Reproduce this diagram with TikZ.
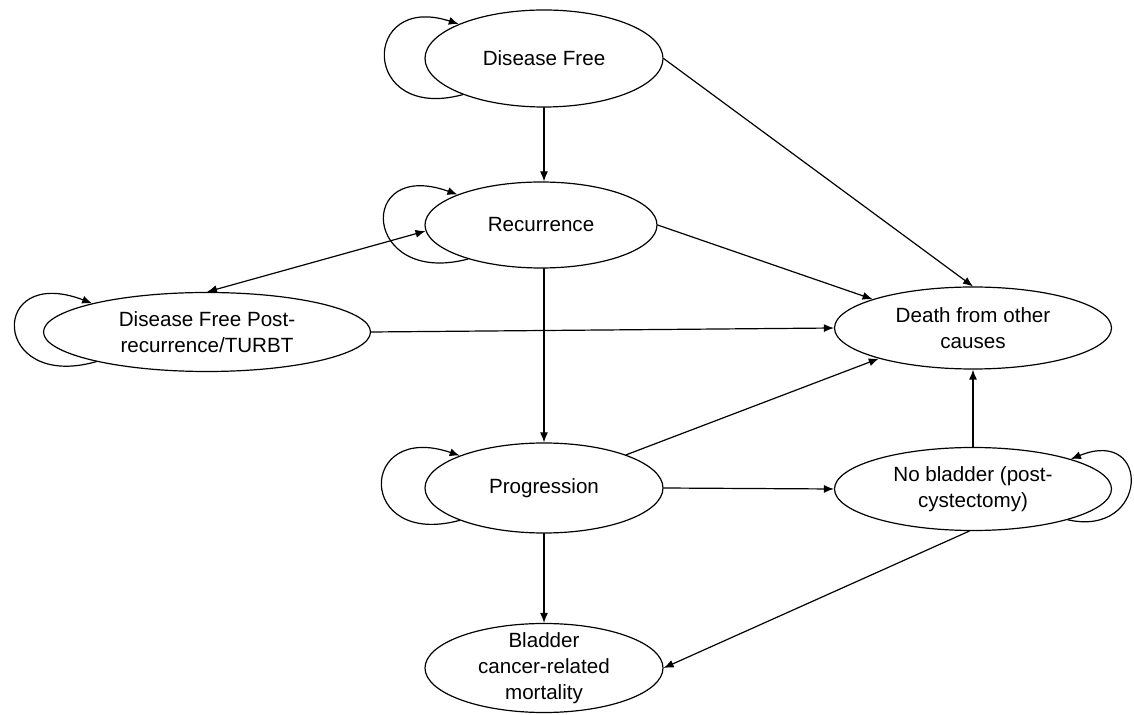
\documentclass[tikz,border=0pt]{standalone}
\usepackage{fontspec}
\setmainfont{Liberation Sans}
\usetikzlibrary{shapes.geometric,arrows.meta}
\begin{document}
\begin{tikzpicture}[line cap=round,line join=round,>={Latex[length=5pt,width=4pt]},x=0.5pt,y=-0.5pt,
		state/.style={ellipse,draw,line width=0.6pt,inner sep=-4pt,align=center,font=\fontsize{10.3}{12.9}\selectfont},
		link/.style={->,line width=0.6pt}]
				\useasboundingbox (0,0) rectangle (1134,715);
				\node[state,minimum width=119pt,minimum height=48.5pt] (DF) at (544,58.5) {Disease Free};
				\node[state,minimum width=116pt,minimum height=43pt] (R) at (541,225) {Recurrence};
				\node[state,minimum width=163.5pt,minimum height=39.5pt] (DP) at (207,332) {Disease Free Post-\\recurrence/TURBT};
				\node[state,minimum width=138.5pt,minimum height=41pt] (DO) at (973,328) {Death from other\\causes};
				\node[state,minimum width=119pt,minimum height=45pt] (P) at (544,488) {Progression};
				\node[state,minimum width=138.5pt,minimum height=41.5pt] (NB) at (973,489) {No bladder (post-\\cystectomy)};
				\node[state,minimum width=119pt,minimum height=44.5pt] (BM) at (544,668) {Bladder\\cancer-related\\mortality};
				
				\draw[link] (DF.south)--(R.north -| DF.south);
				\draw[link] (R.south -| P.north)--(P.north);
				\draw[link] (P)--(BM);
				\draw[link] (DF.east)--(DO.north);
				\draw[link] (R.east)--(DO.164);
				\draw[link] (DP.east)--(DO.west);
				\draw[link] (P.22)--(DO.198);
				\draw[link] (P.east)--(NB.west);
				\draw[link] (NB)--(DO);
				\draw[link] (NB.265)--(BM.east);
				\draw[link,<->] (DP.north)--(R.183);
				
				\draw[link] (DF.204) .. controls +(-103,28) and +(-98,-32) .. (DF.158);
				\draw[link] (R.205) .. controls +(-106,28) and +(-102,-37) .. (R.160);
				\draw[link] (DP.195) .. controls +(-106,30) and +(-104,-40) .. (DP.166);
				\draw[link] (P.201) .. controls +(-104,28) and +(-102,-35) .. (P.159);
				\draw[link] (NB.342) .. controls +(81,18) and +(81,-33) .. (NB.17);
				
			\end{tikzpicture}
\end{document}
